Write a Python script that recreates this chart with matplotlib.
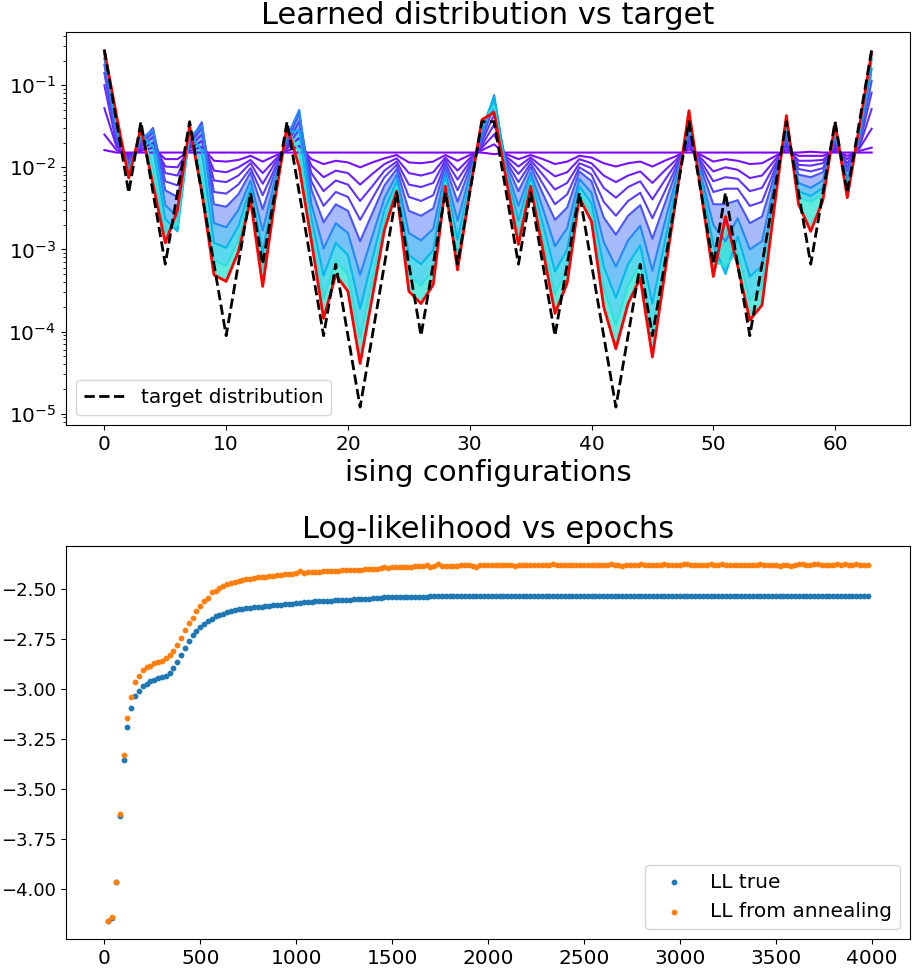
import numpy as np
import matplotlib
matplotlib.use("Agg")
import matplotlib.pyplot as plt

# ---- top panel: 64 ising configurations (log10 p) ----
target = [0.27, 0.036, 0.0049, 0.036, 0.0049, 0.00066, 0.0049, 0.036,
          0.0049, 0.00066, 8.9e-5, 0.00066, 0.0049, 0.00066, 0.0049, 0.036,
          0.0049, 0.00066, 8.9e-5, 0.00066, 8.9e-5, 1.2e-5, 8.9e-5, 0.00066,
          0.0049, 0.00066, 8.9e-5, 0.00066, 0.0049, 0.00066, 0.0049, 0.036,
          0.036, 0.0049, 0.00066, 0.0049, 0.00066, 8.9e-5, 0.00066, 0.0049,
          0.00066, 8.9e-5, 1.2e-5, 8.9e-5, 0.00066, 8.9e-5, 0.00066, 0.0049,
          0.036, 0.0049, 0.00066, 0.0049, 0.00066, 8.9e-5, 0.00066, 0.0049,
          0.036, 0.0049, 0.00066, 0.0049, 0.036, 0.0049, 0.036, 0.27]

# learned distribution at successive epochs (log10 p)
snap0 = [-1.79, -1.82, -1.82, -1.82, -1.82, -1.82, -1.82, -1.82,
         -1.82, -1.82, -1.82, -1.82, -1.82, -1.82, -1.82, -1.82,
         -1.82, -1.82, -1.82, -1.82, -1.82, -1.82, -1.82, -1.82,
         -1.82, -1.82, -1.82, -1.82, -1.82, -1.82, -1.82, -1.82,
         -1.84, -1.82, -1.82, -1.82, -1.82, -1.82, -1.82, -1.82,
         -1.82, -1.82, -1.82, -1.82, -1.82, -1.82, -1.82, -1.82,
         -1.82, -1.82, -1.82, -1.82, -1.82, -1.82, -1.82, -1.82,
         -1.82, -1.82, -1.81, -1.82, -1.82, -1.82, -1.82, -1.82]
snap1 = [-1.60, -1.79, -1.84, -1.80, -1.76, -1.90, -1.90, -1.80,
         -1.75, -1.92, -1.93, -1.91, -1.86, -1.93, -1.86, -1.80,
         -1.74, -1.90, -1.96, -1.92, -1.94, -2.00, -1.94, -1.89,
         -1.85, -1.94, -1.95, -1.93, -1.85, -1.92, -1.85, -1.79,
         -1.72, -1.84, -1.90, -1.85, -1.90, -1.96, -1.93, -1.86,
         -1.88, -1.95, -1.99, -1.95, -1.93, -1.99, -1.92, -1.86,
         -1.78, -1.85, -1.93, -1.90, -1.92, -1.96, -1.95, -1.87,
         -1.79, -1.86, -1.86, -1.86, -1.80, -1.86, -1.80, -1.76]
snap2 = [-1.28, -1.75, -1.87, -1.78, -1.70, -1.99, -2.00, -1.77,
         -1.68, -2.04, -2.06, -2.00, -1.91, -2.07, -1.91, -1.77,
         -1.64, -1.98, -2.12, -2.04, -2.07, -2.21, -2.08, -1.96,
         -1.89, -2.07, -2.10, -2.06, -1.88, -2.04, -1.89, -1.76,
         -1.60, -1.87, -1.99, -1.88, -2.00, -2.11, -2.06, -1.90,
         -1.95, -2.10, -2.18, -2.10, -2.05, -2.19, -2.04, -1.90,
         -1.74, -1.89, -2.05, -2.00, -2.03, -2.13, -2.10, -1.92,
         -1.75, -1.92, -1.92, -1.91, -1.77, -1.90, -1.77, -1.53]
snap3 = [-1.00, -1.72, -1.89, -1.75, -1.63, -2.07, -2.10, -1.75,
         -1.60, -2.16, -2.18, -2.10, -1.95, -2.20, -1.95, -1.75,
         -1.54, -2.07, -2.29, -2.16, -2.21, -2.41, -2.23, -2.04,
         -1.93, -2.21, -2.24, -2.19, -1.91, -2.15, -1.93, -1.73,
         -1.48, -1.90, -2.08, -1.91, -2.09, -2.27, -2.19, -1.95,
         -2.01, -2.25, -2.37, -2.24, -2.17, -2.39, -2.16, -1.94,
         -1.70, -1.93, -2.17, -2.12, -2.14, -2.29, -2.25, -1.98,
         -1.72, -1.97, -1.98, -1.95, -1.74, -1.95, -1.75, -1.29]
snap4 = [-0.85, -1.68, -1.92, -1.72, -1.57, -2.17, -2.22, -1.72,
         -1.52, -2.30, -2.32, -2.21, -2.01, -2.34, -2.01, -1.72,
         -1.44, -2.17, -2.47, -2.30, -2.36, -2.64, -2.38, -2.12,
         -1.97, -2.36, -2.41, -2.34, -1.95, -2.28, -1.97, -1.69,
         -1.36, -1.93, -2.18, -1.95, -2.20, -2.45, -2.33, -2.00,
         -2.09, -2.42, -2.59, -2.41, -2.31, -2.62, -2.30, -1.98,
         -1.66, -1.97, -2.30, -2.26, -2.26, -2.47, -2.42, -2.04,
         -1.68, -2.02, -2.05, -2.01, -1.71, -2.00, -1.72, -1.09]
snap5 = [-0.75, -1.63, -1.95, -1.69, -1.52, -2.28, -2.36, -1.69,
         -1.45, -2.45, -2.48, -2.33, -2.06, -2.51, -2.06, -1.69,
         -1.34, -2.27, -2.67, -2.45, -2.53, -2.90, -2.56, -2.22,
         -2.02, -2.53, -2.59, -2.50, -1.99, -2.42, -2.02, -1.65,
         -1.25, -1.96, -2.29, -1.99, -2.32, -2.64, -2.49, -2.05,
         -2.17, -2.61, -2.82, -2.59, -2.46, -2.87, -2.45, -2.03,
         -1.61, -2.02, -2.45, -2.45, -2.40, -2.68, -2.60, -2.11,
         -1.63, -2.09, -2.12, -2.06, -1.67, -2.05, -1.69, -0.95]
snap6 = [-0.67, -1.56, -2.00, -1.65, -1.55, -2.46, -2.60, -1.63,
         -1.50, -2.68, -2.73, -2.52, -2.16, -2.77, -2.16, -1.63,
         -1.30, -2.45, -2.99, -2.68, -2.80, -3.31, -2.84, -2.37,
         -2.09, -2.80, -2.89, -2.75, -2.06, -2.65, -2.10, -1.59,
         -1.12, -2.01, -2.47, -2.06, -2.50, -2.96, -2.74, -2.14,
         -2.31, -2.91, -3.21, -2.89, -2.71, -3.26, -2.68, -2.11,
         -1.52, -2.10, -2.70, -2.90, -2.62, -3.00, -2.90, -2.21,
         -1.56, -2.19, -2.25, -2.16, -1.61, -2.14, -1.63, -0.80]
snap7 = [-0.62, -1.49, -2.05, -1.60, -1.75, -2.63, -2.78, -1.58,
         -1.80, -2.92, -2.98, -2.72, -2.25, -3.03, -2.25, -1.58,
         -1.55, -2.62, -3.32, -2.92, -3.07, -3.72, -3.12, -2.52,
         -2.17, -3.07, -3.18, -3.01, -2.12, -2.88, -2.18, -1.52,
         -1.15, -2.06, -2.65, -2.12, -2.69, -3.27, -3.00, -2.23,
         -2.44, -3.21, -3.59, -3.18, -2.95, -3.66, -2.92, -2.19,
         -1.44, -2.18, -2.94, -3.30, -2.84, -3.33, -3.20, -2.32,
         -1.49, -2.29, -2.35, -2.25, -1.55, -2.23, -1.58, -0.68]
snap8 = [-0.59, -1.42, -2.09, -1.56, -2.00, -2.79, -2.70, -1.54,
         -2.10, -3.13, -3.20, -2.89, -2.33, -3.25, -2.33, -1.54,
         -1.80, -2.77, -3.60, -3.13, -3.31, -4.08, -3.37, -2.65,
         -2.23, -3.31, -3.44, -3.24, -2.18, -3.08, -2.24, -1.47,
         -1.25, -2.11, -2.81, -2.18, -2.86, -3.55, -3.22, -2.30,
         -2.56, -3.47, -3.92, -3.44, -3.17, -4.01, -3.13, -2.26,
         -1.37, -2.24, -3.15, -3.20, -3.03, -3.62, -3.46, -2.42,
         -1.42, -2.37, -2.42, -2.33, -1.50, -2.30, -1.54, -0.62]
learned_final = [-0.58, -1.37, -2.13, -1.52, -2.21, -2.92, -2.52, -1.50,
                 -2.30, -3.31, -3.39, -3.03, -2.40, -3.45, -2.40, -1.50,
                 -2.00, -2.90, -3.84, -3.31, -3.51, -4.39, -3.58, -2.76,
                 -2.29, -3.51, -3.66, -3.43, -2.23, -3.25, -2.30, -1.42,
                 -1.33, -2.15, -2.94, -2.23, -3.00, -3.78, -3.41, -2.37,
                 -2.66, -3.70, -4.21, -3.66, -3.35, -4.31, -3.31, -2.32,
                 -1.31, -2.30, -3.33, -2.60, -3.20, -3.86, -3.68, -2.50,
                 -1.37, -2.45, -2.78, -2.40, -1.46, -2.37, -1.50, -0.60]

# ---- bottom panel: log-likelihood every 20 epochs ----
epochs = np.arange(20, 4000, 20)
ll_anneal = [
    -4.158, -4.141, -3.962, -3.622, -3.329, -3.145, -3.036, -2.962, -2.932, -2.904,
    -2.888, -2.883, -2.868, -2.865, -2.857, -2.843, -2.828, -2.806, -2.778, -2.743,
    -2.701, -2.669, -2.641, -2.609, -2.582, -2.560, -2.544, -2.513, -2.510, -2.492,
    -2.485, -2.475, -2.468, -2.463, -2.458, -2.455, -2.450, -2.447, -2.443, -2.440,
    -2.440, -2.436, -2.434, -2.432, -2.430, -2.429, -2.425, -2.424, -2.421, -2.418,
    -2.410, -2.416, -2.414, -2.414, -2.412, -2.411, -2.410, -2.409, -2.409, -2.409,
    -2.410, -2.404, -2.402, -2.404, -2.403, -2.402, -2.401, -2.400, -2.400, -2.398,
    -2.396, -2.392, -2.390, -2.394, -2.389, -2.388, -2.387, -2.386, -2.388, -2.386,
    -2.385, -2.383, -2.384, -2.380, -2.386, -2.385, -2.375, -2.384, -2.384, -2.382,
    -2.381, -2.381, -2.380, -2.376, -2.376, -2.385, -2.386, -2.378, -2.378, -2.378,
    -2.380, -2.376, -2.377, -2.378, -2.376, -2.377, -2.381, -2.377, -2.379, -2.376,
    -2.379, -2.380, -2.379, -2.380, -2.379, -2.377, -2.375, -2.377, -2.378, -2.377,
    -2.377, -2.376, -2.380, -2.380, -2.379, -2.380, -2.380, -2.376, -2.377, -2.377,
    -2.378, -2.375, -2.376, -2.376, -2.382, -2.377, -2.376, -2.380, -2.376, -2.372,
    -2.379, -2.376, -2.376, -2.380, -2.378, -2.373, -2.379, -2.378, -2.377, -2.378,
    -2.372, -2.375, -2.379, -2.379, -2.380, -2.379, -2.376, -2.375, -2.378, -2.379,
    -2.372, -2.378, -2.377, -2.380, -2.378, -2.377, -2.376, -2.377, -2.376, -2.376,
    -2.375, -2.377, -2.376, -2.376, -2.379, -2.382, -2.378, -2.377, -2.381, -2.376,
    -2.375, -2.375, -2.377, -2.379, -2.374, -2.374, -2.377, -2.378, -2.377, -2.379,
    -2.375, -2.377, -2.374, -2.376, -2.379, -2.375, -2.376, -2.378, -2.376]
ll_true = [
    -4.160, -4.145, -3.966, -3.634, -3.356, -3.188, -3.094, -3.032, -3.007, -2.982,
    -2.971, -2.959, -2.952, -2.945, -2.940, -2.932, -2.917, -2.892, -2.862, -2.827,
    -2.791, -2.758, -2.729, -2.706, -2.686, -2.671, -2.657, -2.647, -2.634, -2.629,
    -2.621, -2.612, -2.607, -2.603, -2.600, -2.597, -2.594, -2.592, -2.590, -2.588,
    -2.586, -2.585, -2.582, -2.580, -2.578, -2.577, -2.575, -2.573, -2.571, -2.568,
    -2.566, -2.565, -2.563, -2.562, -2.560, -2.559, -2.558, -2.557, -2.556, -2.555,
    -2.554, -2.553, -2.552, -2.551, -2.550, -2.549, -2.548, -2.547, -2.546, -2.545,
    -2.544, -2.543, -2.540, -2.540, -2.539, -2.539, -2.538, -2.538, -2.537, -2.537,
    -2.537, -2.536, -2.536, -2.536, -2.535, -2.535, -2.535, -2.534, -2.534, -2.534,
    -2.534, -2.533, -2.533, -2.533, -2.533, -2.533, -2.533, -2.533, -2.532, -2.533,
    -2.533, -2.532, -2.533, -2.533, -2.532, -2.533, -2.532, -2.532, -2.533, -2.533,
    -2.532, -2.533, -2.533, -2.532, -2.533, -2.533, -2.532, -2.533, -2.532, -2.533,
    -2.533, -2.532, -2.532, -2.533, -2.533, -2.532, -2.533, -2.533, -2.532, -2.532,
    -2.533, -2.533, -2.532, -2.533, -2.532, -2.533, -2.533, -2.532, -2.533, -2.533,
    -2.532, -2.532, -2.533, -2.533, -2.532, -2.533, -2.532, -2.533, -2.533, -2.532,
    -2.533, -2.532, -2.533, -2.532, -2.533, -2.533, -2.532, -2.532, -2.533, -2.533,
    -2.532, -2.533, -2.533, -2.532, -2.533, -2.532, -2.533, -2.533, -2.532, -2.533,
    -2.533, -2.532, -2.532, -2.533, -2.533, -2.532, -2.533, -2.532, -2.533, -2.533,
    -2.532, -2.533, -2.533, -2.532, -2.532, -2.533, -2.533, -2.532, -2.533, -2.532,
    -2.533, -2.532, -2.533, -2.533, -2.532, -2.533, -2.532, -2.533, -2.533]

assert len(ll_anneal) == len(epochs) and len(ll_true) == len(epochs)

plt.rcParams['font.size'] = 14.5
fig = plt.figure(figsize=(9.13, 9.72), dpi=100)
ax1 = fig.add_axes([0.0723, 0.5628, 0.9244, 0.4043])
ax2 = fig.add_axes([0.0723, 0.034, 0.9244, 0.4043])

configs = np.arange(64)
cmap = plt.get_cmap('rainbow')
snaps = [snap0, snap1, snap2, snap3, snap4, snap5, snap6, snap7, snap8]
line_c = [0.0, 0.02, 0.04, 0.06, 0.08, 0.11, 0.18, 0.26, 0.34]
band_c = [0.13, 0.21, 0.29, 0.36]
band_a = [0.45, 0.6, 0.7, 0.8]

for k, s in enumerate(snaps):
    if k >= 6:
        ax1.fill_between(configs, 10 ** np.array(snaps[k - 1]), 10 ** np.array(s),
                         color=cmap(band_c[k - 6]), alpha=band_a[k - 6], lw=0)
    ax1.plot(configs, 10 ** np.array(s), color=cmap(line_c[k]), lw=1.5)
ax1.fill_between(configs, 10 ** np.array(snap8), 10 ** np.array(learned_final),
                 color=cmap(band_c[3]), alpha=band_a[3], lw=0)

ax1.plot(configs, 10 ** np.array(learned_final), color='red', lw=2)
ax1.plot(configs, target, 'k--', lw=2, label='target distribution')
ax1.set_yscale('log')
ax1.set_title('Learned distribution vs target', fontsize=22)
ax1.set_xlabel('ising configurations', fontsize=21)
ax1.legend(loc='lower left')

ax2.scatter(epochs, ll_true, s=10, color='#1f77b4', label='LL true')
ax2.scatter(epochs, ll_anneal, s=10, color='#ff7f0e', label='LL from annealing')
ax2.set_xlim(-200, 4200)
ax2.tick_params(axis='y', labelsize=13)
ax2.set_title('Log-likelihood vs epochs', fontsize=22)
ax2.legend(loc='lower right')

fig.savefig('out.png', dpi=100)
